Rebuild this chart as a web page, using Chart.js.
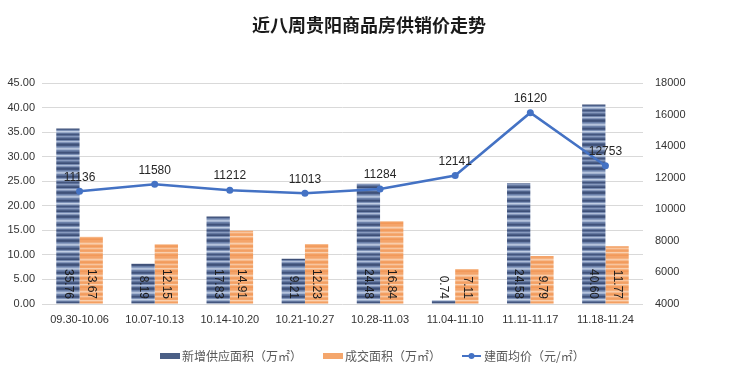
<!DOCTYPE html>
<html>
<head>
<meta charset="utf-8">
<script src="https://cdn.jsdelivr.net/npm/chart.js@4"></script>
<style>
html,body{margin:0;padding:0;background:#fff;}
#wrap{width:740px;height:374px;position:relative;}
</style>
</head>
<body>
<div id="wrap"><canvas id="c" width="740" height="374"></canvas></div>
<script>
const title = '近八周贵阳商品房供销价走势';
const categories = ['09.30-10.06','10.07-10.13','10.14-10.20','10.21-10.27','10.28-11.03','11.04-11.10','11.11-11.17','11.18-11.24'];
const supplyArea = [35.76, 8.19, 17.83, 9.21, 24.48, 0.74, 24.58, 40.60];
const dealArea = [13.67, 12.15, 14.91, 12.23, 16.84, 7.11, 9.79, 11.77];
const avgPrice = [11136, 11580, 11212, 11013, 11284, 12141, 16120, 12753];
const leftTicks = [0, 5, 10, 15, 20, 25, 30, 35, 40, 45];
const rightTicks = [4000, 6000, 8000, 10000, 12000, 14000, 16000, 18000];
const seriesNames = ['新增供应面积（万㎡）', '成交面积（万㎡）', '建面均价（元/㎡）'];

function stripePattern(colors) {
  const cv = document.createElement('canvas');
  cv.width = 4; cv.height = colors.length;
  const g = cv.getContext('2d');
  colors.forEach((c, i) => { g.fillStyle = c; g.fillRect(0, i, 4, 1); });
  return g.createPattern(cv, 'repeat');
}
const blueFill = stripePattern([
  '#3f5179','#45577f','#6a7fa8','#8a9dc0','#b5c3dc','#a3b3d0','#6d82aa','#5a6e97',
  '#40527a','#4c5f88','#7e92b7','#c0cde3','#9aabc9','#61759d','#44567e','#5d719a',
  '#8799bd','#6579a1','#4a5d85','#3d4f77','#7589b0','#aebdd8','#8395ba','#52668e'
]);
const orangeFill = stripePattern([
  '#f4a46a','#f4a46a','#f6b27f','#f9cdab','#f7bb8e','#f3a063','#f29b5d','#f5ab74',
  '#f8c59f','#f5ad77','#f3a064','#f4a56b','#f9d0b0','#f6b482','#f39f62','#f2995a'
]);

const FONT = '"Liberation Sans Narrow","Liberation Sans","Noto Sans CJK SC",sans-serif';
const CJK = '"Noto Sans CJK SC","Noto Sans",sans-serif';

const labelPlugin = {
  id: 'labels',
  afterDatasetsDraw(chart) {
    const ctx = chart.ctx;
    const bottom = chart.chartArea.bottom;
    ctx.save();
    ctx.font = '12px ' + FONT;
    ctx.fillStyle = '#1c1c1c';
    [0, 1].forEach(di => {
      const meta = chart.getDatasetMeta(di);
      const data = chart.data.datasets[di].data;
      meta.data.forEach((el, i) => {
        ctx.save();
        ctx.translate(el.x, bottom - 5);
        ctx.rotate(Math.PI / 2);
        ctx.textAlign = 'right';
        ctx.textBaseline = 'middle';
        ctx.fillText(data[i].toFixed(2), 0, 0);
        ctx.restore();
      });
    });
    const lm = chart.getDatasetMeta(2);
    ctx.font = '12px ' + FONT;
    ctx.fillStyle = '#262626';
    ctx.textAlign = 'center';
    ctx.textBaseline = 'middle';
    lm.data.forEach((el, i) => {
      ctx.fillText(String(avgPrice[i]), el.x, el.y - 14);
    });
    ctx.restore();
  },
  afterDraw(chart) {
    const ctx = chart.ctx;
    ctx.save();
    ctx.font = 'bold 18px ' + CJK;
    ctx.fillStyle = '#1a1a1a';
    ctx.textAlign = 'center';
    ctx.textBaseline = 'middle';
    ctx.fillText(title, 369, 25);
    const y = 356;
    ctx.font = '12px ' + CJK;
    ctx.textAlign = 'left';
    ctx.fillStyle = '#4b5f86';
    ctx.fillRect(160, y - 3, 20, 6);
    ctx.fillStyle = '#f4a66c';
    ctx.fillRect(323, y - 3, 20, 6);
    ctx.strokeStyle = '#4472c4';
    ctx.lineWidth = 2;
    ctx.beginPath(); ctx.moveTo(462, y); ctx.lineTo(481, y); ctx.stroke();
    ctx.fillStyle = '#4472c4';
    ctx.beginPath(); ctx.arc(471.5, y, 3, 0, Math.PI * 2); ctx.fill();
    ctx.fillStyle = '#595959';
    ctx.fillText(seriesNames[0], 182, y);
    ctx.fillText(seriesNames[1], 345, y);
    ctx.fillText(seriesNames[2], 484, y);
    ctx.restore();
  }
};

new Chart(document.getElementById('c'), {
  data: {
    labels: categories,
    datasets: [
      { type: 'bar', label: seriesNames[0], data: supplyArea, backgroundColor: blueFill, borderWidth: 0, yAxisID: 'y', categoryPercentage: 0.62, barPercentage: 1.0, order: 2 },
      { type: 'bar', label: seriesNames[1], data: dealArea, backgroundColor: orangeFill, borderWidth: 0, yAxisID: 'y', categoryPercentage: 0.62, barPercentage: 1.0, order: 2 },
      { type: 'line', label: seriesNames[2], data: avgPrice, borderColor: '#4472c4', backgroundColor: '#4472c4', borderWidth: 2.5, pointRadius: 3.5, pointBackgroundColor: '#4472c4', pointBorderWidth: 0, yAxisID: 'y1', tension: 0, order: 1 }
    ]
  },
  options: {
    responsive: false,
    animation: false,
    layout: { padding: { top: 83, bottom: 40, left: 0, right: 0 } },
    plugins: { legend: { display: false }, title: { display: false }, tooltip: { enabled: false } },
    scales: {
      x: {
        grid: { display: false, drawTicks: false },
        border: { display: false },
        ticks: { color: '#333333', font: { size: 11, family: FONT }, padding: 9, maxRotation: 0, autoSkip: false },
        afterFit(s) { s.height = 30; }
      },
      y: {
        position: 'left',
        min: 0, max: 45,
        afterBuildTicks(s) { s.ticks = leftTicks.map(v => ({ value: v })); },
        grid: { color: '#d9d9d9', drawTicks: false, lineWidth: 1 },
        border: { display: false },
        ticks: { color: '#333333', font: { size: 11, family: FONT }, padding: 7, callback: v => Number(v).toFixed(2) },
        afterFit(s) { s.width = 42; }
      },
      y1: {
        position: 'right',
        min: 4000, max: 18000,
        afterBuildTicks(s) { s.ticks = rightTicks.map(v => ({ value: v })); },
        grid: { display: false, drawTicks: false },
        border: { display: false },
        ticks: { color: '#333333', font: { size: 11, family: FONT }, padding: 12, callback: v => String(v) },
        afterFit(s) { s.width = 97; }
      }
    }
  },
  plugins: [labelPlugin]
});
</script>
</body>
</html>
